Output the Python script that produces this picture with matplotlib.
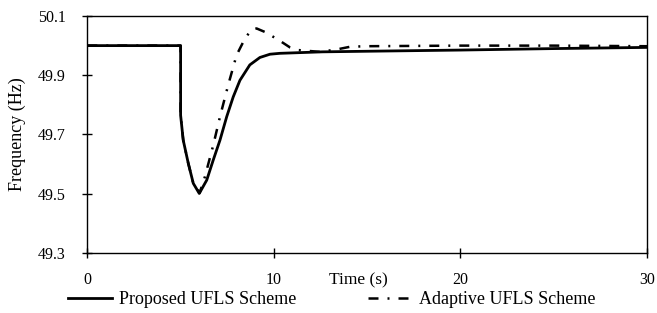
import matplotlib.pyplot as plt

plt.rcParams['font.family'] = ['Liberation Serif', 'DejaVu Serif']

# Proposed UFLS scheme (solid)
t_prop = [0, 5.0, 5.0, 5.14, 5.41, 5.68, 6.0, 6.4, 6.75, 7.11, 7.47, 7.82,
          8.18, 8.71, 9.25, 9.79, 10.32, 12.6, 15, 20, 25, 30]
f_prop = [50.0, 50.0, 49.765, 49.681, 49.603, 49.535, 49.501, 49.546, 49.614,
          49.681, 49.76, 49.827, 49.883, 49.935, 49.96, 49.971, 49.974,
          49.979, 49.981, 49.985, 49.99, 49.994]

# Adaptive UFLS scheme (dash-dot)
t_adap = [0, 5.0, 5.0, 5.14, 5.41, 5.68, 6.02, 6.3, 6.75, 7.11, 7.55, 8.0,
          8.45, 8.8, 9.07, 9.52, 10.23, 10.86, 11.3, 12.46, 13.36, 14.07,
          14.9, 20, 25, 30]
f_adap = [50.0, 50.0, 49.765, 49.681, 49.603, 49.535, 49.503, 49.557, 49.664,
          49.76, 49.867, 49.968, 50.024, 50.054, 50.058, 50.046, 50.02,
          49.994, 49.985, 49.979, 49.987, 49.996, 49.998, 50.0, 50.0, 49.998]

x_ticks = [0, 10, 20, 30]
y_ticks = [49.3, 49.5, 49.7, 49.9, 50.1]

fig = plt.figure(figsize=(6.57, 3.13), dpi=100)
ax = fig.add_axes([0.1329, 0.1917, 0.852, 0.7572])

ax.plot(t_prop, f_prop, color='black', lw=2.0, label='Proposed UFLS Scheme')
ax.plot(t_adap, f_adap, color='black', lw=1.8, dashes=(4, 3.6, 0.8, 3.6),
        dash_capstyle='butt', label='Adaptive UFLS Scheme')

ax.set_xlim(0, 30)
ax.set_ylim(49.3, 50.1)

for s in ax.spines.values():
    s.set_linewidth(1.0)
ax.tick_params(axis='both', direction='inout', length=7, width=1.0)
ax.tick_params(axis='y', pad=12)
ax.tick_params(axis='x', pad=10)
ax.set_xticks(x_ticks, [str(v) for v in x_ticks], fontsize=11.5)
ax.set_yticks(y_ticks, [f'{v:.1f}' for v in y_ticks], fontsize=11.5)

ax.set_xlabel('Time (s)', fontsize=12.5)
ax.xaxis.set_label_coords(0.4846, -0.08)
ax.set_ylabel('Frequency (Hz)', fontsize=13)
ax.yaxis.set_label_coords(-0.1095, 0.5)

fig.legend(loc='center', bbox_to_anchor=(0.505, 0.042), ncol=2, frameon=False,
           fontsize=13, handlelength=2.4, handletextpad=0.4,
           columnspacing=4.0, borderpad=0)

plt.savefig('out.png', dpi=100)
